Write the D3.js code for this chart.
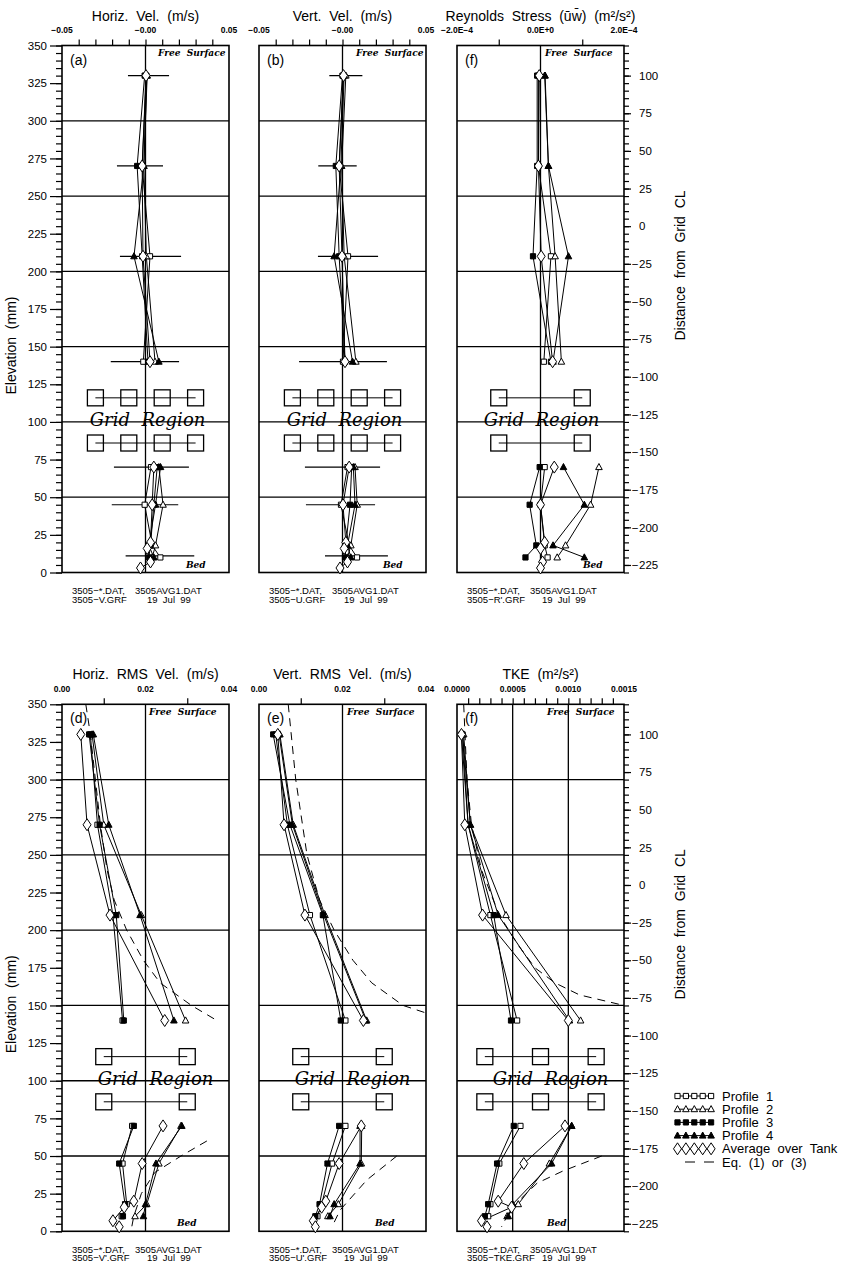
<!DOCTYPE html>
<html lang="en">
<head>
<meta charset="UTF-8">
<title>Grid turbulence profiles</title>
<script src="https://d3js.org/d3.v7.min.js"></script>
<style>
  body { margin: 0; background: #fff; }
  svg text { font-family: "Liberation Sans", Arial, sans-serif; fill: #000; white-space: pre; }
</style>
</head>
<body>
<svg id="chart"></svg>
<script>
    // ---- data ----
    const seriesNames = ["Profile  1", "Profile  2", "Profile  3", "Profile  4", "Average  over  Tank", "Eq.  (1)  or  (3)"];
    const profileElev = [330, 270, 210, 140, 70, 45, 18, 10];
    const averageElev = [330, 270, 210, 140, 70, 45, 20, 16, 7, 3];
    const errorElev = [330, 270, 210, 140, 70, 45, 11];
    const elevGridLines = [50, 100, 150, 200, 250, 300];

    // (a) Horiz. Vel.
    const horizVelProfiles = [
        [0.0005, -0.002, 0.0027, -0.0013, 0.0033, -0.0005, 0.004, 0.0089],
        [0.001, -0.001, 0.0005, 0.0057, 0.008, 0.0105, 0.006, 0.004],
        [-0.0005, -0.005, -0.002, 0.0015, 0.007, 0.005, 0.003, 0.002],
        [0.0008, -0.001, -0.0069, 0.008, 0.009, 0.006, 0.002, 0.005]
    ];
    const horizVelAverage = [0.0003, -0.002, -0.0015, 0.0027, 0.005, 0.004, 0.003, 0.001, 0.003, -0.003];
    const horizVelErrLo = [-0.0105, -0.0171, -0.0153, -0.0208, -0.0189, -0.0202, -0.0119];
    const horizVelErrHi = [0.0141, 0.0105, 0.0213, 0.0201, 0.026, 0.0196, 0.0292];

    // (b) Vert. Vel.
    const vertVelProfiles = [
        [0.0005, -0.002, 0.0033, 0.0003, 0.003, -0.0009, 0.004, 0.0087],
        [0.002, -0.0005, 0.001, 0.008, 0.0075, 0.0088, 0.005, 0.003],
        [0.0, -0.004, -0.002, 0.0015, 0.0055, 0.0045, 0.002, 0.0015],
        [0.001, -0.001, -0.005, 0.006, 0.0065, 0.0075, 0.003, 0.005]
    ];
    const vertVelAverage = [0.0006, -0.002, -0.0003, 0.0015, 0.004, 0.0003, 0.002, 0.001, 0.003, -0.0015];
    const vertVelErrLo = [-0.0079, -0.0145, -0.0147, -0.026, -0.0225, -0.0219, -0.0105];
    const vertVelErrHi = [0.0119, 0.0085, 0.0213, 0.0266, 0.0225, 0.0195, 0.0272];

    // (f) Reynolds stress
    const stressProfiles = [
        [-5e-6, -5e-6, 2.5e-5, 8e-6, 1e-5, 0, 1e-5, 1.7e-5],
        [1e-5, 1.9e-5, 3.5e-5, 5e-5, 1.4e-4, 1.2e-4, 6e-5, 4e-5],
        [-8e-6, -8e-6, -1.8e-5, 2.5e-5, -2e-6, -2.6e-5, -1e-5, -3.6e-5],
        [1.1e-5, 1.9e-5, 6.7e-5, 3e-5, 5.5e-5, 1.05e-4, 3e-5, 1.05e-4]
    ];
    const stressAverage = [-3e-6, -5e-6, 1.6e-6, 2.9e-5, 3.3e-5, 0, 1e-5, 0, 5e-6, 0];

    // (d) Horiz. RMS Vel.
    const horizRmsProfiles = [
        [0.0068, 0.0085, 0.0122, 0.0145, 0.0168, 0.0145, 0.0155, 0.0143],
        [0.0072, 0.0100, 0.0190, 0.0296, 0.0285, 0.0232, 0.0203, 0.0175],
        [0.0065, 0.0090, 0.0130, 0.0148, 0.0172, 0.0137, 0.0151, 0.0146],
        [0.0075, 0.0112, 0.0187, 0.0268, 0.0287, 0.0225, 0.0200, 0.0195]
    ];
    const horizRmsAverage = [0.0045, 0.0060, 0.0115, 0.0246, 0.0242, 0.0192, 0.0172, 0.0149, 0.0122, 0.0137];
    const horizRmsEqUpper = [[350, 0.0057], [330, 0.0068], [300, 0.0080], [270, 0.0092], [240, 0.0108], [220, 0.0125], [200, 0.0155], [180, 0.0195], [165, 0.0235], [150, 0.031], [141, 0.0365]];
    const horizRmsEqLower = [[60, 0.0347], [50, 0.0285], [39, 0.0222], [25, 0.019], [10, 0.0172], [0, 0.0165]];

    // (e) Vert. RMS Vel.
    const vertRmsProfiles = [
        [0.0040, 0.0068, 0.0122, 0.0207, 0.0207, 0.0175, 0.0150, 0.0140],
        [0.0050, 0.0082, 0.0158, 0.0258, 0.0246, 0.0245, 0.0190, 0.0165],
        [0.0034, 0.0074, 0.0153, 0.0196, 0.0192, 0.0164, 0.0145, 0.0135],
        [0.0048, 0.0080, 0.0155, 0.0256, 0.0242, 0.0242, 0.0180, 0.0170]
    ];
    const vertRmsAverage = [0.0045, 0.0060, 0.0110, 0.0250, 0.0245, 0.0192, 0.0160, 0.0150, 0.0130, 0.0135];
    const vertRmsEqUpper = [[350, 0.007], [300, 0.0088], [250, 0.0115], [220, 0.0145], [200, 0.018], [180, 0.0225], [165, 0.027], [150, 0.0345], [145, 0.04]];
    const vertRmsEqLower = [[50, 0.033], [34, 0.0258], [14, 0.0194], [2.5, 0.0174]];

    // (f) TKE
    const tkeProfiles = [
        [0.00005, 0.0001, 0.0003, 0.00054, 0.00057, 0.00038, 0.0003, 0.00028],
        [0.00006, 0.00012, 0.00044, 0.00111, 0.00103, 0.00083, 0.00055, 0.00045],
        [0.00004, 0.0001, 0.00033, 0.000485, 0.00051, 0.00036, 0.00028, 0.00025],
        [0.00005, 0.00012, 0.00037, 0.00101, 0.00103, 0.00085, 0.0005, 0.00046]
    ];
    const tkeAverage = [0.00004, 0.00007, 0.00023, 0.001, 0.00097, 0.0006, 0.00037, 0.00049, 0.00022, 0.00027];
    const tkeEqUpper = [[350, 0.00006], [300, 0.00009], [270, 0.00013], [240, 0.00022], [210, 0.00038], [190, 0.00055], [175, 0.0007], [165, 0.00088], [157, 0.0011], [150, 0.0015]];
    const tkeEqLower = [[50, 0.0013], [40, 0.00095], [32, 0.00072], [20, 0.00055], [10, 0.00045], [3, 0.0004]];

    // axis tick labels
    const velTicks = [-0.05, 0, 0.05];
    const velTickLabels = ["\u22120.05", "\u22120.00", "0.05"];
    const stressTicks = [-2e-4, 0, 2e-4];
    const stressTickLabels = ["\u22122.0E\u22124", "0.0E+0", "2.0E\u22124"];
    const rmsTicks = [0, 0.02, 0.04];
    const rmsTickLabels = ["0.00", "0.02", "0.04"];
    const tkeTicks = [0, 0.0005, 0.001, 0.0015];
    const tkeTickLabels = ["0.0000", "0.0005", "0.0010", "0.0015"];

    // grid bar positions (drawn in each panel's x units)
    const velGridBars = [-0.03, -0.01, 0.01, 0.03];
    const stressGridBars = [-1e-4, 1e-4];
    const rmsGridBars = [0.01, 0.03];
    const tkeGridBars = [0.00025, 0.00075, 0.00125];
    const gridBarElev = [116, 86];

    // ---- layout ----
    const W = 167, H = 527;
    const colLeft = [62, 259, 457];
    const rowTop = [45.5, 704.3];

    const svg = d3.select("#chart").attr("width", 846).attr("height", 1267);
    svg.append("rect").attr("width", 846).attr("height", 1267).attr("fill", "#fff");

    const panels = [
        { col: 0, row: 0, letter: "(a)", title: "Horiz.  Vel.  (m/s)", domain: [-0.05, 0.05], minor: d3.range(-4, 5).map(d => d / 100),
          ticks: velTicks, tickLabels: velTickLabels, vGrid: [0], bars: velGridBars, profiles: horizVelProfiles, average: horizVelAverage,
          errLo: horizVelErrLo, errHi: horizVelErrHi, file: "3505\u2212V.GRF", fsX: 96, bedX: 124, grShift: 2 },
        { col: 1, row: 0, letter: "(b)", title: "Vert.  Vel.  (m/s)", domain: [-0.05, 0.05], minor: d3.range(-4, 5).map(d => d / 100),
          ticks: velTicks, tickLabels: velTickLabels, vGrid: [0], bars: velGridBars, profiles: vertVelProfiles, average: vertVelAverage,
          errLo: vertVelErrLo, errHi: vertVelErrHi, file: "3505\u2212U.GRF", fsX: 97, bedX: 124, grShift: 2 },
        { col: 2, row: 0, letter: "(f)", title: "Reynolds  Stress  (u\u0304w\u0304)  (m\u00b2/s\u00b2)", domain: [-2e-4, 2e-4], minor: [-1e-4, 1e-4],
          ticks: stressTicks, tickLabels: stressTickLabels, vGrid: [0], bars: stressGridBars, profiles: stressProfiles, average: stressAverage,
          file: "3505\u2212R'.GRF", fsX: 88, bedX: 126, grShift: 1 },
        { col: 0, row: 1, letter: "(d)", title: "Horiz.  RMS  Vel.  (m/s)", domain: [0, 0.04], minor: [0.01, 0.03],
          ticks: rmsTicks, tickLabels: rmsTickLabels, vGrid: [0.02], bars: rmsGridBars, profiles: horizRmsProfiles, average: horizRmsAverage,
          eq: [horizRmsEqUpper, horizRmsEqLower], file: "3505\u2212V'.GRF", fsX: 87, bedX: 115, grShift: 10 },
        { col: 1, row: 1, letter: "(e)", title: "Vert.  RMS  Vel.  (m/s)", domain: [0, 0.04], minor: [0.01, 0.03],
          ticks: rmsTicks, tickLabels: rmsTickLabels, vGrid: [0.02], bars: rmsGridBars, profiles: vertRmsProfiles, average: vertRmsAverage,
          eq: [vertRmsEqUpper, vertRmsEqLower], file: "3505\u2212U'.GRF", fsX: 88, bedX: 116, grShift: 10 },
        { col: 2, row: 1, letter: "(f)", title: "TKE  (m\u00b2/s\u00b2)", domain: [0, 0.0015], minor: d3.range(1, 15).map(d => d / 10000),
          ticks: tkeTicks, tickLabels: tkeTickLabels, vGrid: [0.0005, 0.001], bars: tkeGridBars, profiles: tkeProfiles, average: tkeAverage,
          eq: [tkeEqUpper, tkeEqLower], file: "3505\u2212TKE.GRF", fsX: 90, bedX: 90, grShift: 10 }
    ];

    const markerTypes = ["openSquare", "openTriangle", "filledSquare", "filledTriangle", "diamond"];

    function drawMarker(g, type, cx, cy) {
        let d;
        if (type === "openSquare" || type === "filledSquare") d = "M-2.6,-2.6h5.2v5.2h-5.2Z";
        else if (type === "diamond") d = "M0,-6L4,0L0,6L-4,0Z";
        else d = "M0,-3.6L3.3,2.5L-3.3,2.5Z";
        const filled = type.startsWith("filled");
        g.append("path").attr("d", d).attr("transform", `translate(${cx},${cy})`)
            .attr("fill", filled ? "#000" : "#fff").attr("stroke", "#000").attr("stroke-width", 1);
    }

    function split(elev, vals) {
        const pts = elev.map((e, i) => [e, vals[i]]);
        return [pts.filter(d => d[0] > 100), pts.filter(d => d[0] < 100)];
    }

    function drawPanel(p) {
        const left = colLeft[p.col], top = rowTop[p.row];
        const x = d3.scaleLinear().domain(p.domain).range([left, left + W]);
        const y = d3.scaleLinear().domain([0, 350]).range([top + H, top]);
        const g = svg.append("g");

        // grid lines
        g.selectAll(".hg").data(elevGridLines).join("line")
            .attr("x1", left).attr("x2", left + W).attr("y1", d => y(d)).attr("y2", d => y(d))
            .attr("stroke", "#000").attr("stroke-width", 1.3);
        g.selectAll(".vg").data(p.vGrid).join("line")
            .attr("x1", d => x(d)).attr("x2", d => x(d)).attr("y1", top).attr("y2", top + H)
            .attr("stroke", "#000").attr("stroke-width", 1.3);
        g.append("rect").attr("x", left).attr("y", top).attr("width", W).attr("height", H)
            .attr("fill", "none").attr("stroke", "#000").attr("stroke-width", 1.6);

        // left axis (first column only)
        if (p.col === 0) {
            const yMinor = g.append("g").attr("transform", `translate(${left},0)`)
                .call(d3.axisLeft(y).tickValues(d3.range(0, 351, 5)).tickSize(6).tickFormat(""));
            yMinor.select(".domain").remove();
            const yMajor = g.append("g").attr("transform", `translate(${left},0)`)
                .call(d3.axisLeft(y).tickValues(d3.range(0, 351, 25)).tickSize(12).tickPadding(3));
            yMajor.select(".domain").remove();
            yMajor.attr("font-size", 11.5).attr("font-family", "Liberation Sans, Arial, sans-serif");
            g.selectAll(".tick line").attr("stroke-width", 1.2);
            svg.append("text").attr("transform", `translate(16,${top + 300}) rotate(-90)`)
                .attr("text-anchor", "middle").attr("font-size", 14).text("Elevation  (mm)");
        }

        // top axis
        const xMinor = g.append("g").attr("transform", `translate(0,${top})`)
            .call(d3.axisTop(x).tickValues(p.minor).tickSize(6).tickFormat(""));
        xMinor.select(".domain").remove();
        xMinor.selectAll("line").attr("stroke-width", 1.2);
        g.selectAll(".xl").data(p.ticks).join("text")
            .attr("x", d => x(d)).attr("y", top - 12.5).attr("text-anchor", "middle")
            .attr("font-size", 8.5).attr("font-weight", "bold").text((d, i) => p.tickLabels[i]);

        // right axis (distance from grid CL)
        if (p.col === 2) {
            const dist = d3.scaleLinear().domain([-230, 120]).range([top + H, top]);
            const rMinor = g.append("g").attr("transform", `translate(${left + W},0)`)
                .call(d3.axisRight(dist).tickValues(d3.range(-230, 121, 5)).tickSize(5).tickFormat(""));
            rMinor.select(".domain").remove();
            const rMajor = g.append("g").attr("transform", `translate(${left + W},0)`)
                .call(d3.axisRight(dist).tickValues(d3.range(-225, 101, 25)).tickSize(7).tickPadding(8).tickFormat(d => Math.abs(d)));
            rMajor.select(".domain").remove();
            rMajor.attr("font-size", 11.5).attr("font-family", "Liberation Sans, Arial, sans-serif");
            rMajor.selectAll(".tick").each(function (d) {
                if (d < 0) d3.select(this).append("text").attr("x", 14.5).attr("dy", "0.32em")
                    .attr("text-anchor", "end").attr("fill", "#000").text("\u2212");
            });
            g.selectAll(".tick line").attr("stroke-width", 1.2);
            g.append("text").attr("transform", `translate(${left + W + 61},${top + 220}) rotate(-90)`)
                .attr("text-anchor", "middle").attr("font-size", 14).text("Distance  from  Grid  CL");
        }

        // grid region bars
        gridBarElev.forEach(e => {
            g.append("line").attr("x1", x(p.bars[0])).attr("x2", x(p.bars[p.bars.length - 1]))
                .attr("y1", y(e)).attr("y2", y(e)).attr("stroke", "#000").attr("stroke-width", 1);
            p.bars.forEach(b => g.append("rect").attr("x", x(b) - 8).attr("y", y(e) - 8)
                .attr("width", 16).attr("height", 16).attr("fill", "none").attr("stroke", "#000").attr("stroke-width", 1.3));
        });
        g.append("text").attr("x", left + W / 2 + p.grShift).attr("y", y(100) + 4).attr("text-anchor", "middle")
            .attr("font-style", "italic").attr("font-size", 18)
            .style("font-family", "'DejaVu Serif', serif").text("Grid  Region");

        // text inside panel
        g.append("text").attr("x", left + 8).attr("y", top + 19).attr("font-size", 14).text(p.letter);
        g.append("text").attr("x", left + p.fsX).attr("y", top + 10.5).attr("font-size", 9)
            .style("font-family", "'DejaVu Serif', serif").attr("font-style", "italic").attr("font-weight", "bold").text("Free  Surface");
        g.append("text").attr("x", left + p.bedX).attr("y", top + H - 5).attr("font-size", 9)
            .style("font-family", "'DejaVu Serif', serif").attr("font-style", "italic").attr("font-weight", "bold").text("Bed");

        const line = d3.line().x(d => x(d[1])).y(d => y(d[0]));

        // equation curve
        if (p.eq) {
            p.eq.forEach(seg => g.append("path").attr("d", line(seg)).attr("fill", "none")
                .attr("stroke", "#000").attr("stroke-width", 1).attr("stroke-dasharray", "8,6"));
        }
        // error bars
        if (p.errLo) {
            errorElev.forEach((e, i) => g.append("line").attr("x1", x(p.errLo[i])).attr("x2", x(p.errHi[i]))
                .attr("y1", y(e)).attr("y2", y(e)).attr("stroke", "#000").attr("stroke-width", 1.2));
        }

        const series = p.profiles.map(v => split(profileElev, v)).concat([split(averageElev, p.average)]);
        series.forEach(segs => segs.forEach(seg => g.append("path").attr("d", line(seg))
            .attr("fill", "none").attr("stroke", "#000").attr("stroke-width", 1)));
        series.forEach((segs, si) => segs.forEach(seg => seg.forEach(d => drawMarker(g, markerTypes[si], x(d[1]), y(d[0])))));

        // titles and footer
        svg.append("text").attr("x", left + W / 2).attr("y", top - 25).attr("text-anchor", "middle")
            .attr("font-size", 14).text(p.title);
        const fy = top + H + 21.5;
        svg.append("text").attr("x", left + 10).attr("y", fy).attr("font-size", 9.5).text("3505\u2212*.DAT,");
        svg.append("text").attr("x", left + 73).attr("y", fy).attr("font-size", 9.5).text("3505AVG1.DAT");
        svg.append("text").attr("x", left + 10).attr("y", fy + 8.5).attr("font-size", 9.5).text(p.file);
        svg.append("text").attr("x", left + 85).attr("y", fy + 8.5).attr("font-size", 9.5).text("19  Jul  99");
    }

    panels.forEach(drawPanel);

    // legend
    const legendY = d3.scaleLinear().domain([0, 5]).range([1096, 1162]);
    const legend = svg.append("g");
    seriesNames.forEach((name, i) => {
        const ly = legendY(i);
        if (i < 5) {
            legend.append("line").attr("x1", 676).attr("x2", 712).attr("y1", ly).attr("y2", ly)
                .attr("stroke", "#000").attr("stroke-width", 1);
            d3.range(5).forEach(k => drawMarker(legend, markerTypes[i], 677.5 + k * 8.4, ly));
        } else {
            legend.append("line").attr("x1", 685).attr("x2", 714).attr("y1", ly).attr("y2", ly)
                .attr("stroke", "#000").attr("stroke-width", 1).attr("stroke-dasharray", "10,9");
        }
        legend.append("text").attr("x", 722).attr("y", ly).attr("dy", "0.35em").attr("font-size", 13).text(name);
    });
</script>
</body>
</html>
